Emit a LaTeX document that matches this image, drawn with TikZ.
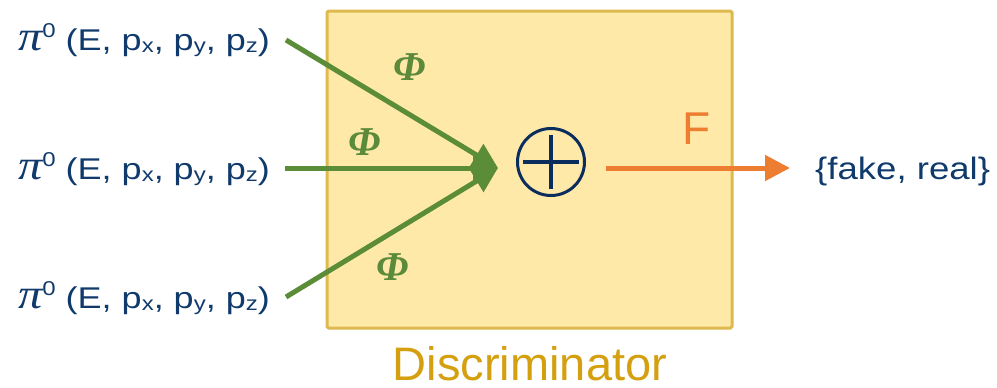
\documentclass[tikz,border=0pt]{standalone}
\usepackage{fontspec}
\setmainfont{Liberation Sans}
\newfontfamily\widesans[FakeStretch=1.2]{Liberation Sans}
\newfontfamily\outsans[FakeStretch=1.18]{Liberation Sans}
\newfontfamily\grk{Liberation Serif}
\usetikzlibrary{arrows.meta}
\definecolor{navy}{HTML}{0F3A6B}
\definecolor{symnavy}{HTML}{0B2D5E}
\definecolor{phigreen}{HTML}{5A8A3A}
\definecolor{arrgreen}{HTML}{5B8C38}
\definecolor{orangec}{HTML}{ED7D31}
\definecolor{boxfill}{HTML}{FFE9A8}
\definecolor{boxline}{HTML}{DDB94F}
\definecolor{goldtext}{HTML}{D4A010}
\newcommand\sbs[1]{\raisebox{-0.07em}{\fontsize{20}{20}\selectfont #1}}
\newcommand\pilabel{\scalebox{1.15}[1]{\grk\itshape\fontsize{42}{42}\selectfont π}\raisebox{0.42em}{\fontsize{20}{20}\selectfont 0} (E, p\sbs{x}, p\sbs{y}, p\sbs{z})}
\tikzset{
  inlabel/.style={anchor=base east, inner sep=0pt, text=navy, font=\widesans\fontsize{30}{34}\selectfont},
  philabel/.style={inner sep=0pt, text=phigreen, font=\grk\bfseries\itshape\fontsize{41}{46}\selectfont},
  greenarrow/.style={draw=arrgreen, line width=5pt, -{Triangle[length=25pt,width=25pt]}},
  orangearrow/.style={draw=orangec, line width=5pt, -{Triangle[length=25pt,width=25pt]}},
}
\begin{document}
\begin{tikzpicture}[x=1pt,y=-1pt]
\useasboundingbox (0,0) rectangle (997,388);
% box
\node[draw=boxline, fill=boxfill, line width=3pt, rounded corners=1.5pt,
      minimum width=405pt, minimum height=317pt, inner sep=0pt] (disc) at (529.5,169.5) {};
\node[anchor=base, inner sep=0pt, text=goldtext, font=\fontsize{47}{54}\selectfont] (disclabel) at (530,380) {Discriminator};
% inputs
\node[inlabel] (in1) at (270,50) {\pilabel};
\node[inlabel] (in2) at (270,179) {\pilabel};
\node[inlabel] (in3) at (270,308) {\pilabel};
\coordinate (s1) at (286,40);
\coordinate (s2) at (285,168);
\coordinate (s3) at (286,297);
\coordinate (join) at (498,168);
\draw[greenarrow] (s1) -- (join);
\draw[greenarrow] (s3) -- (join);
\draw[greenarrow] (s2) -- (join);
% phi labels
\node[philabel] (phi1) at (410,67) {Φ};
\node[philabel] (phi2) at (365,142) {Φ};
\node[philabel] (phi3) at (393,267) {Φ};
% sum
\node[circle, draw=symnavy, line width=3pt, minimum size=67pt, inner sep=0pt] (sum) at (551,162) {};
\draw[symnavy, line width=4pt] ([xshift=-28pt]sum.center) -- ([xshift=28pt]sum.center);
\draw[symnavy, line width=4pt] ([yshift=27pt]sum.center) -- ([yshift=-27pt]sum.center);
% output
\coordinate (o1) at (606,168);
\coordinate (o2) at (790,168);
\draw[orangearrow] (o1) -- (o2);
\node[inner sep=0pt, text=orangec, font=\fontsize{46}{52}\selectfont] (F) at (697,129) {F};
\node[anchor=base west, inner sep=0pt, text=navy, font=\outsans\fontsize{31}{36}\selectfont] (out) at (815,179) {\{fake, real\}};
\end{tikzpicture}
\end{document}
